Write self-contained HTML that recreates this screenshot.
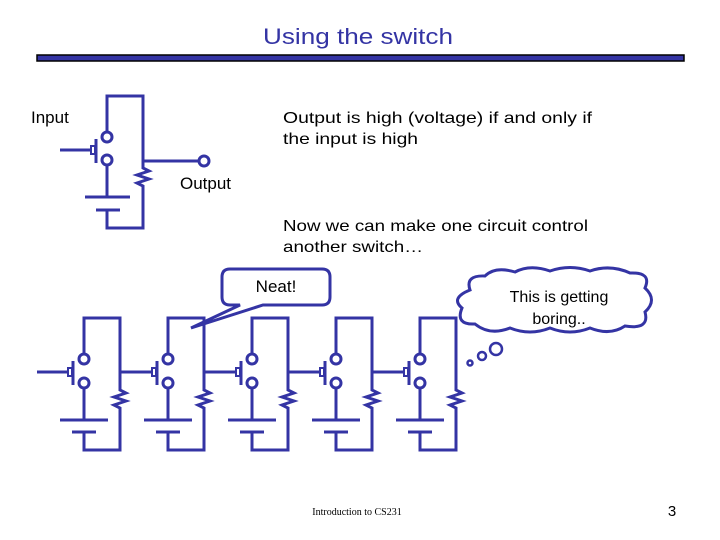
<!DOCTYPE html>
<html><head><meta charset="utf-8"><style>
html,body{margin:0;padding:0;background:#fff}
svg{display:block}
text{font-family:"Liberation Sans",sans-serif}
text.serif{font-family:"Liberation Serif",serif}
</style></head><body>
<svg width="720" height="540" viewBox="0 0 720 540" xmlns="http://www.w3.org/2000/svg">
<defs>
<g id="cell" fill="none" stroke="#3434a4" stroke-width="3">
  <path d="M84,354 V318 H120 V390 l6,3 l-12,4 l12,4 l-12,4 l6,3 V450 H84 V432"/>
  <circle cx="84" cy="359" r="5"/>
  <circle cx="84" cy="383" r="5"/>
  <path d="M84,388 V420"/>
  <path d="M60,420 H108 M72,432 H96"/>
  <path d="M73,361 V385"/>
  <path d="M68,368 H72 V376 H68 Z" stroke-width="2"/>
</g>
</defs>

<text x="358" y="44" font-size="22" fill="#3434a4" text-anchor="middle" textLength="190" lengthAdjust="spacingAndGlyphs">Using the switch</text>
<rect x="37" y="55" width="647" height="6" fill="#3434a4" stroke="#000" stroke-width="1.5"/>

<!-- top circuit -->
<g fill="none" stroke="#3434a4" stroke-width="3">
  <path d="M107,132 V96 H143 V168 l6,3 l-12,4 l12,4 l-12,4 l6,3 V228 H107 V210"/>
  <circle cx="107" cy="137" r="5"/>
  <circle cx="107" cy="160" r="5"/>
  <path d="M107,165 V197"/>
  <path d="M85,197 H130 M96,210 H120"/>
  <path d="M96,139 V163"/>
  <path d="M91,146 H95 V154 H91 Z" stroke-width="2"/>
  <path d="M60,150 H91"/>
  <path d="M143,161 H199"/>
  <circle cx="204" cy="161" r="5"/>
</g>
<text x="31" y="123" font-size="17">Input</text>
<text x="180" y="189" font-size="17">Output</text>
<text x="283" y="123" font-size="16" textLength="309" lengthAdjust="spacingAndGlyphs">Output is high (voltage) if and only if</text>
<text x="283" y="144" font-size="16" textLength="135" lengthAdjust="spacingAndGlyphs">the input is high</text>
<text x="283" y="231" font-size="16" textLength="305" lengthAdjust="spacingAndGlyphs">Now we can make one circuit control</text>
<text x="283" y="252" font-size="16" textLength="140" lengthAdjust="spacingAndGlyphs">another switch…</text>

<!-- bottom chain -->
<use href="#cell"/>
<use href="#cell" transform="translate(84,0)"/>
<use href="#cell" transform="translate(168,0)"/>
<use href="#cell" transform="translate(252,0)"/>
<use href="#cell" transform="translate(336,0)"/>
<g fill="none" stroke="#3434a4" stroke-width="3">
  <path d="M37,372 H68 M120,372 H152 M204,372 H236 M288,372 H320 M372,372 H404"/>
</g>

<!-- Neat callout -->
<path d="M230,269 H322 Q330,269 330,277 V297 Q330,305 322,305 H263 L191,328 L240,305 H230 Q222,305 222,297 V277 Q222,269 230,269 Z" fill="#fff" stroke="#3434a4" stroke-width="3"/>
<text x="276" y="292" font-size="17" text-anchor="middle">Neat!</text>

<!-- cloud -->
<path d="M470,290 Q465,275 485,276 Q495,266 515,272 Q530,264 550,271 Q570,264 590,271 Q610,264 630,273 Q652,272 645,288 Q658,300 645,312 Q650,330 625,326 Q610,336 590,328 Q570,336 550,328 Q530,336 510,328 Q490,336 475,324 Q455,325 462,308 Q450,298 470,290 Z" fill="#fff" stroke="#3434a4" stroke-width="3"/>
<text x="559" y="302" font-size="16" text-anchor="middle">This is getting</text>
<text x="559" y="324" font-size="16" text-anchor="middle">boring..</text>
<g fill="#fff" stroke="#3434a4" stroke-width="2.5">
  <circle cx="496" cy="349" r="6"/>
  <circle cx="482" cy="356" r="4"/>
  <circle cx="470" cy="363" r="2.5"/>
</g>

<text class="serif" x="357" y="515" font-size="10" text-anchor="middle">Introduction to CS231</text>
<text x="672" y="516" font-size="15" text-anchor="middle">3</text>
</svg>
</body></html>
